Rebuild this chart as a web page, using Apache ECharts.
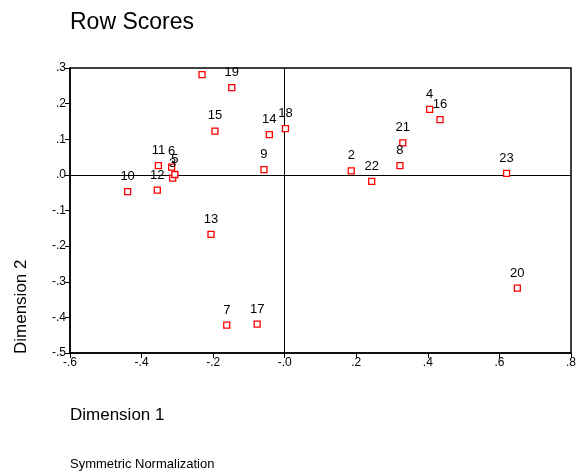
<!DOCTYPE html>
<html>
<head>
<meta charset="utf-8">
<script src="https://cdn.jsdelivr.net/npm/echarts@6/dist/echarts.min.js"></script>
<style>
html,body{margin:0;padding:0;background:#fff;}
#chart{width:579px;height:473px;}
</style>
</head>
<body>
<div id="chart"></div>
<script>
// Row labels and their scores
var rowNames = ['1','2','3','4','5','6','7','8','9','10','11','12','13','14','15','16','17','18','19','20','21','22','23'];
var dim1 = [-0.231, 0.186, -0.313, 0.405, -0.307, -0.316, -0.162, 0.322, -0.058, -0.439, -0.353, -0.356, -0.206, -0.043, -0.195, 0.434, -0.077, 0.002, -0.148, 0.650, 0.330, 0.243, 0.620];
var dim2 = [0.2815, 0.011, -0.009, 0.184, 0.001, 0.022, -0.422, 0.026, 0.015, -0.047, 0.026, -0.043, -0.167, 0.113, 0.123, 0.155, -0.419, 0.130, 0.245, -0.318, 0.090, -0.018, 0.004];
var hiddenLabels = ['1'];

var xTickLabels = ['-.6', '-.4', '-.2', '-.0', '.2', '.4', '.6', '.8'];
var yTickLabels = ['-.5', '-.4', '-.3', '-.2', '-.1', '.0', '.1', '.2', '.3'];
var xMin = -0.6, xMax = 0.8, xStep = 0.2;
var yMin = -0.5, yMax = 0.3, yStep = 0.1;

var FONT = 'Liberation Sans, Arial, sans-serif';

var points = rowNames.map(function (n, i) {
  return {
    name: n,
    value: [dim1[i], dim2[i]],
    label: { show: hiddenLabels.indexOf(n) < 0 }
  };
});

var chart = echarts.init(document.getElementById('chart'), null, { renderer: 'canvas' });
chart.setOption({
  animation: false,
  backgroundColor: '#fff',
  title: [
    { text: 'Row Scores', left: 65, top: 6, textStyle: { fontFamily: FONT, fontSize: 23, fontWeight: 'normal', color: '#000' } },
    { text: 'Dimension 1', left: 65, top: 402, textStyle: { fontFamily: FONT, fontSize: 17, fontWeight: 'normal', color: '#000' } },
    { text: 'Symmetric Normalization', left: 65, top: 453, textStyle: { fontFamily: FONT, fontSize: 13, fontWeight: 'normal', color: '#000' } }
  ],
  graphic: [
    { type: 'text', x: 21, y: 354, rotation: Math.PI / 2,
      style: { text: 'Dimension 2', fontFamily: FONT, fontSize: 17, fill: '#000', textAlign: 'left', textVerticalAlign: 'middle' } }
  ],
  grid: { left: 70, top: 68, right: 6, bottom: 120, show: true, borderColor: '#000', borderWidth: 1.5, backgroundColor: 'transparent' },
  xAxis: {
    type: 'value', min: xMin, max: xMax, interval: xStep,
    axisLine: { show: true, onZero: false, lineStyle: { color: '#000', width: 1.5 } },
    axisTick: { show: true, length: 5, inside: false, lineStyle: { color: '#000', width: 1 } },
    splitLine: { show: false },
    axisLabel: {
      margin: 4, color: '#000', fontFamily: FONT, fontSize: 12,
      formatter: function (v) { return xTickLabels[Math.round((v - xMin) / xStep)]; }
    }
  },
  yAxis: {
    type: 'value', min: yMin, max: yMax, interval: yStep,
    axisLine: { show: true, onZero: false, lineStyle: { color: '#000', width: 1.5 } },
    axisTick: { show: true, length: 5, inside: false, lineStyle: { color: '#000', width: 1 } },
    splitLine: { show: false },
    axisLabel: {
      margin: 4, color: '#000', fontFamily: FONT, fontSize: 12,
      formatter: function (v) { return yTickLabels[Math.round((v - yMin) / yStep)]; }
    }
  },
  series: [{
    type: 'scatter',
    symbol: 'rect',
    symbolSize: 6,
    itemStyle: { color: '#fff', borderColor: '#ff0000', borderWidth: 1.3, opacity: 1 },
    label: {
      show: true, position: 'top', distance: 5,
      formatter: '{b}', color: '#000', fontFamily: FONT, fontSize: 13
    },
    labelLayout: { hideOverlap: false },
    data: points,
    z: 3,
    markLine: {
      silent: true,
      symbol: ['none', 'none'],
      label: { show: false },
      lineStyle: { color: '#000', width: 1, type: 'solid' },
      data: [{ xAxis: 0 }, { yAxis: 0 }],
      z: 1
    }
  }]
});
</script>
</body>
</html>
